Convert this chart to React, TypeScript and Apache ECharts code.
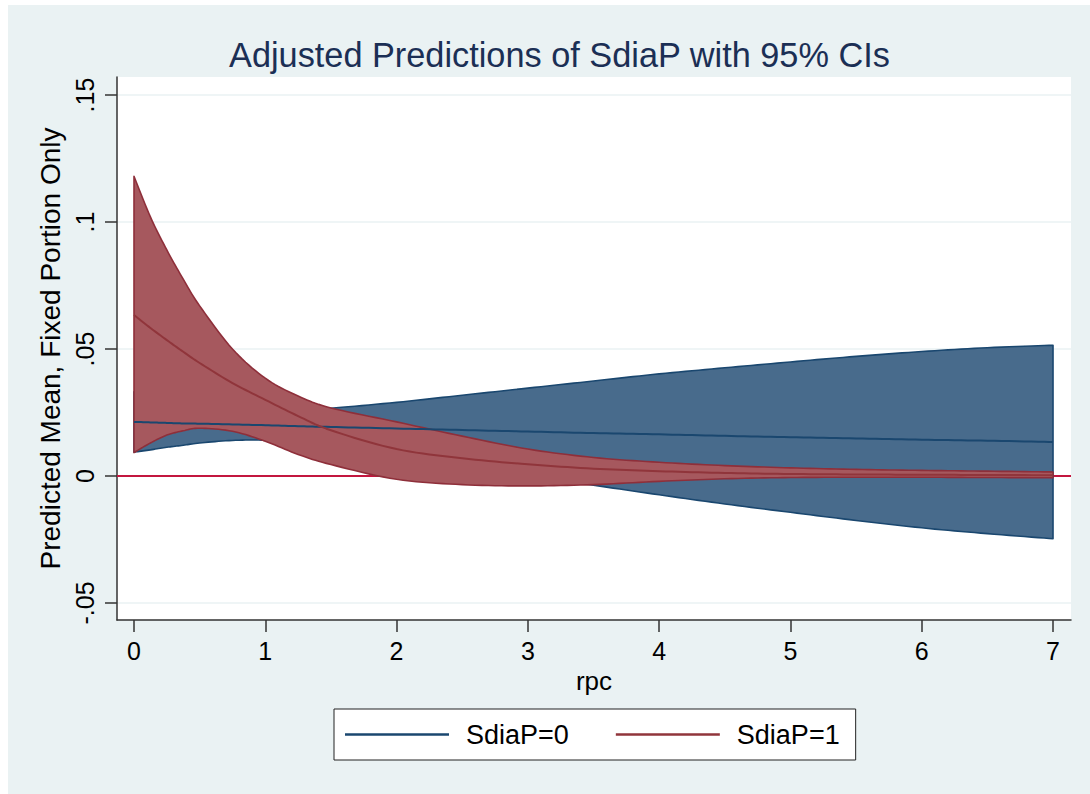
import React, { useEffect, useRef } from "react";
import * as echarts from "echarts";

// rpc values at which predictions were read
const xs = [0, 0.125, 0.25, 0.375, 0.5, 0.75, 1, 1.25, 1.5, 2, 2.5, 3, 3.5, 4, 4.5, 5, 5.5, 6, 6.5, 7];

// SdiaP = 0
const blueMean = [0.0213, 0.0211, 0.0209, 0.0207, 0.0206, 0.0203, 0.02, 0.0196, 0.0193, 0.0187, 0.0181, 0.0175, 0.0169, 0.0164, 0.0158, 0.0153, 0.0148, 0.0143, 0.0139, 0.0134];
const blueUpper = [0.0332, 0.0318, 0.0305, 0.0293, 0.0282, 0.0266, 0.0259, 0.026, 0.0267, 0.029, 0.0318, 0.0346, 0.0374, 0.0402, 0.0426, 0.0449, 0.0471, 0.049, 0.0505, 0.0515];
const blueLower = [0.0094, 0.0103, 0.0113, 0.0121, 0.013, 0.014, 0.0141, 0.0132, 0.0119, 0.0084, 0.0044, 0.0004, -0.0036, -0.0074, -0.011, -0.0143, -0.0175, -0.0204, -0.0227, -0.0247];

// SdiaP = 1
const redMean = [0.0634, 0.0583, 0.0535, 0.0489, 0.0445, 0.0366, 0.03, 0.0236, 0.018, 0.0106, 0.007, 0.0046, 0.0029, 0.0019, 0.0012, 0.0008, 0.0006, 0.0005, 0.0004, 0.0003];
const redUpper = [0.118, 0.102, 0.089, 0.0775, 0.067, 0.05, 0.0385, 0.0315, 0.0268, 0.0213, 0.0157, 0.0106, 0.0073, 0.0054, 0.0041, 0.0032, 0.0026, 0.0022, 0.0019, 0.0016];
const redLower = [0.0092, 0.013, 0.0161, 0.0178, 0.0188, 0.0176, 0.0137, 0.0085, 0.0045, -0.0013, -0.0034, -0.0039, -0.0034, -0.0021, -0.0011, -0.0006, -0.0005, -0.0005, -0.0006, -0.0007];

const xTicks = [0, 1, 2, 3, 4, 5, 6, 7];
const yTicks = [-0.05, 0, 0.05, 0.1, 0.15];

const FONT = "Liberation Sans, Arial, sans-serif";

// Catmull-Rom smoothing of already-projected pixel points (rendering only)
function smoothPts(p: number[][], seg = 10): number[][] {
  const out: number[][] = [];
  const n = p.length;
  for (let i = 0; i < n - 1; i++) {
    const p0 = p[i - 1] || p[i];
    const p1 = p[i];
    const p2 = p[i + 1];
    const p3 = p[i + 2] || p[i + 1];
    for (let s = 0; s < seg; s++) {
      const t = s / seg;
      const t2 = t * t;
      const t3 = t2 * t;
      const f = (a: number, b: number, c: number, d: number) =>
        0.5 * (2 * b + (-a + c) * t + (2 * a - 5 * b + 4 * c - d) * t2 + (-a + 3 * b - 3 * c + d) * t3);
      out.push([f(p0[0], p1[0], p2[0], p3[0]), f(p0[1], p1[1], p2[1], p3[1])]);
    }
  }
  out.push(p[n - 1]);
  return out;
}

function band(name: string, lo: number[], hi: number[], fill: string, stroke: string, z: number) {
  return {
    type: "custom",
    name,
    z,
    silent: true,
    clip: true,
    data: xs.map((x, i) => [x, lo[i], hi[i]]),
    encode: { x: 0, y: [1, 2] },
    renderItem: (params: any, api: any) => {
      if (params.dataIndex !== 0) return null;
      const up = smoothPts(xs.map((x, i) => api.coord([x, hi[i]])));
      const dn = smoothPts(xs.map((x, i) => api.coord([x, lo[i]])));
      const pts = up.concat(dn.slice().reverse());
      return {
        type: "polygon",
        shape: { points: pts },
        style: { fill, stroke, lineWidth: 1.6, lineJoin: "round" },
      };
    },
  };
}

function meanLine(name: string, vals: number[], color: string, z: number) {
  return {
    type: "custom",
    name,
    z,
    silent: true,
    clip: true,
    data: xs.map((x, i) => [x, vals[i]]),
    encode: { x: 0, y: 1 },
    renderItem: (params: any, api: any) => {
      if (params.dataIndex !== 0) return null;
      const pts = smoothPts(xs.map((x, i) => api.coord([x, vals[i]])));
      return {
        type: "polyline",
        shape: { points: pts },
        style: { fill: null, stroke: color, lineWidth: 2, lineJoin: "round" },
      };
    },
    itemStyle: { color },
  };
}

export default function App() {
  const ref = useRef<HTMLDivElement>(null);
  useEffect(() => {
    const chart = echarts.init(ref.current!, null, { renderer: "svg" });
    const option: any = {
      animation: false,
      backgroundColor: "#EAF2F3",
      title: {
        text: "Adjusted Predictions of SdiaP with 95% CIs",
        left: 216,
        top: 28,
        textStyle: { fontSize: 34.3, fontWeight: "normal", color: "#1B2F55", fontFamily: FONT },
      },
      legend: {
        data: [
          { name: "SdiaP=0", itemStyle: { color: "#1A476F" } },
          { name: "SdiaP=1", itemStyle: { color: "#90353B" } },
        ],
        left: 326,
        top: 704,
        orient: "horizontal",
        icon: "rect",
        itemWidth: 104,
        itemHeight: 2.5,
        itemGap: 47,
        padding: [12, 16, 12, 11],
        backgroundColor: "#ffffff",
        borderColor: "#222",
        borderWidth: 1,
        borderRadius: 0,
        selectedMode: false,
        textStyle: { fontSize: 27, color: "#000", fontFamily: FONT, padding: [0, 0, 0, 12] },
      },
      grid: {
        left: 109,
        right: 19,
        top: 72,
        bottom: 174,
        show: true,
        backgroundColor: "#ffffff",
        borderWidth: 0,
      },
      xAxis: {
        type: "value",
        min: -0.1295,
        max: 7.137,
        name: "rpc",
        nameLocation: "middle",
        nameGap: 48,
        nameTextStyle: { fontSize: 26, color: "#000", fontFamily: FONT },
        axisLine: { onZero: false, lineStyle: { color: "#333", width: 1.5 } },
        axisTick: { length: 12, customValues: xTicks, lineStyle: { color: "#333", width: 1.5 } },
        axisLabel: { customValues: xTicks, fontSize: 25, color: "#000", margin: 18, fontFamily: FONT },
        splitLine: { show: false },
      },
      yAxis: {
        type: "value",
        min: -0.0567,
        max: 0.1571,
        name: "Predicted Mean, Fixed Portion Only",
        nameLocation: "middle",
        nameGap: 48,
        nameTextStyle: { fontSize: 28, color: "#000", fontFamily: FONT },
        axisLine: { show: true, onZero: false, lineStyle: { color: "#333", width: 1.5 } },
        axisTick: { show: true, length: 12, customValues: yTicks, lineStyle: { color: "#333", width: 1.5 } },
        axisLabel: {
          customValues: yTicks,
          rotate: 90,
          fontSize: 25,
          color: "#000",
          margin: 20,
          fontFamily: FONT,
          formatter: (v: number) => (v === 0 ? "0" : String(v).replace("0.", ".")),
        },
        splitLine: { show: true, lineStyle: { color: "#EAF2F3", width: 1.5 } },
      },
      series: [
        {
          ...band("CI SdiaP=0", blueLower, blueUpper, "#486B8C", "#1A476F", 3),
          markLine: {
            z: 1,
            silent: true,
            symbol: "none",
            label: { show: false },
            lineStyle: { color: "#C3163F", width: 2, type: "solid" },
            data: [{ yAxis: 0 }],
          },
        },
        band("CI SdiaP=1", redLower, redUpper, "#A6585E", "#8E2F3A", 4),
        meanLine("SdiaP=0", blueMean, "#1A476F", 10),
        meanLine("SdiaP=1", redMean, "#90353B", 11),
      ],
    };
    chart.setOption(option);
    return () => chart.dispose();
  }, []);
  return (
    <div
      ref={ref}
      style={{ position: "fixed", left: 8, top: 5, width: 1082, height: 789 }}
    />
  );
}
